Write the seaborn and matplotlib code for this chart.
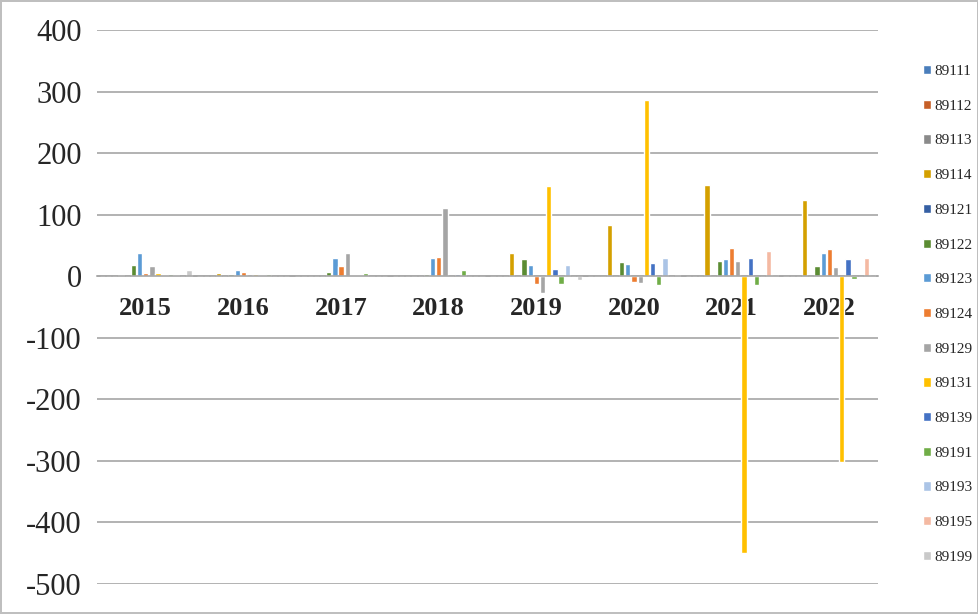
import matplotlib
matplotlib.use("Agg")
import matplotlib.pyplot as plt
import seaborn as sns
import pandas as pd

# years on the x axis
years = ["2015", "2016", "2017", "2018", "2019", "2020", "2021", "2022"]

# one list per code, values per year
s89111 = [0, 0, 0, 0, 0, 0, 0, 0]
s89112 = [0, 0, 0, 0, 0, 0, 0, 0]
s89113 = [0, 0, 0, 0, 0, 0, 0, 0]
s89114 = [1.5, 5.4, 0, 1, 38, 84, 149, 124]
s89121 = [0, 0, 0, 0, 0, 0, 0, 0]
s89122 = [18.5, 4.3, 7.6, 4.3, 28.6, 22.7, 24.3, 17.3]
s89123 = [38.4, 10.8, 29.7, 29, 18.4, 20.5, 28.6, 38.4]
s89124 = [5.4, 7.6, 16.2, 30.8, -13, -9.2, 45.4, 43.7]
s89129 = [16.8, 4.3, 37.8, 111, -26.5, -10.3, 24.3, 14.6]
s89131 = [5.4, 3.2, 2.7, 1, 146, 287, -450, -302]
s89139 = [2.7, 2.2, 2.7, 3.2, 12.4, 21, 29.2, 28]
s89191 = [3.2, 4.3, 5.9, 10.3, -13, -13.5, -15, -4.3]
s89193 = [2, 1, 1, 1, 18.4, 30.2, 0, 0]
s89195 = [0, 0, 0, 0, 0, 0, 41, 29.2]
s89199 = [10.3, 1, 1, 1, -6.5, 2.7, 3.2, 4.3]

codes = ["89111", "89112", "89113", "89114", "89121", "89122", "89123", "89124",
         "89129", "89131", "89139", "89191", "89193", "89195", "89199"]
series = [s89111, s89112, s89113, s89114, s89121, s89122, s89123, s89124,
          s89129, s89131, s89139, s89191, s89193, s89195, s89199]

colors = ["#4A7EBB", "#C65F27", "#8A8A8A", "#D4A000", "#355FA3", "#5B8C33",
          "#5B9BD5", "#ED7D31", "#A5A5A5", "#FFC000", "#4472C4", "#70AD47",
          "#ABC4E6", "#F4B9A2", "#C9C9C9"]

# long table for seaborn
rows = []
for code, vals in zip(codes, series):
    for yr, v in zip(years, vals):
        rows.append({"year": yr, "code": code, "value": v})
df = pd.DataFrame(rows)

sns.set_style("white")
plt.rcParams["font.family"] = ["Liberation Serif", "DejaVu Serif"]
plt.rcParams["axes.unicode_minus"] = False

fig = plt.figure(figsize=(9.79, 6.14), dpi=100)
fig.patch.set_edgecolor("#BFBFBF")
fig.patch.set_linewidth(1.5)
ax = fig.add_axes([0.099, 0.049, 0.798, 0.902])

sns.barplot(data=df, x="year", y="value", hue="code", hue_order=codes,
            palette=colors, saturation=1, width=0.95, gap=0.15, ax=ax, legend=True)

ax.set_xlim(-0.5, 7.5)
ax.set_ylim(-500, 400)
ax.set_yticks(range(-500, 401, 100))
ax.set_xlabel("")
ax.set_ylabel("")

ax.set_axisbelow(True)
ax.yaxis.grid(True, color="#A6A6A6", linewidth=1.2)
for side in ["top", "left", "right"]:
    ax.spines[side].set_visible(False)
ax.spines["bottom"].set_position(("data", 0))
ax.spines["bottom"].set_color("#A6A6A6")
ax.spines["bottom"].set_linewidth(1.2)

ax.tick_params(axis="y", length=0, pad=11, labelsize=22)
ax.tick_params(axis="x", length=0, pad=15, labelsize=19)
for lbl in ax.get_xticklabels():
    lbl.set_fontweight("bold")

ax.legend(loc="upper left", bbox_to_anchor=(1.049, 0.948), frameon=False,
          prop={"family": "Liberation Serif", "size": 11},
          labelspacing=1.42, handlelength=0.55, handleheight=0.55,
          handletextpad=0.2, borderaxespad=0)

fig.savefig("out.png", dpi=100, edgecolor=fig.get_edgecolor())
